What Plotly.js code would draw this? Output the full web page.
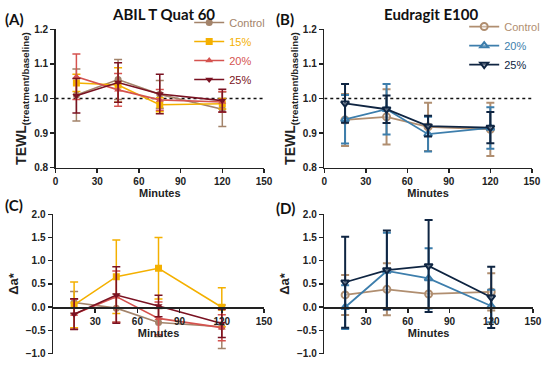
<!DOCTYPE html>
<html><head><meta charset="utf-8">
<script src="https://cdn.plot.ly/plotly-3.0.1.min.js"></script>
<style>html,body{margin:0;padding:0;background:#fff}#chart{width:550px;height:365px}</style>
</head><body><div id="chart"></div>
<script>
const minutes = [15, 45, 75, 120];
const xTicks = [0, 30, 60, 90, 120, 150];
const xTicksLower = [30, 60, 90, 120, 150];

// Panel A: ABIL T Quat 60, TEWL ratio
const tewlAbilControl = [1.010, 1.055, 1.012, 0.969];
const tewlAbilControlSd = [0.075, 0.058, 0.040, 0.050];
const tewlAbil15 = [1.045, 1.039, 0.982, 0.985];
const tewlAbil15Sd = [0.025, 0.050, 0.020, 0.015];
const tewlAbil20 = [1.063, 1.025, 0.996, 0.990];
const tewlAbil20Sd = [0.066, 0.047, 0.030, 0.030];
const tewlAbil25 = [1.008, 1.046, 1.013, 0.994];
const tewlAbil25Sd = [0.050, 0.057, 0.057, 0.033];

// Panel B: Eudragit E100, TEWL ratio
const tewlEudControl = [0.938, 0.947, 0.918, 0.911];
const tewlEudControlSd = [0.075, 0.080, 0.070, 0.077];
const tewlEud20 = [0.940, 0.969, 0.897, 0.915];
const tewlEud20Sd = [0.070, 0.073, 0.050, 0.060];
const tewlEud25 = [0.986, 0.969, 0.920, 0.916];
const tewlEud25Sd = [0.056, 0.040, 0.030, 0.045];

// Panel C: ABIL T Quat 60, delta a*
const daAbilControl = [0.10, -0.02, -0.33, -0.42];
const daAbilControlSd = [0.24, 0.30, 0.30, 0.47];
const daAbil15 = [0.05, 0.657, 0.838, 0.00];
const daAbil15Sd = [0.49, 0.79, 0.66, 0.42];
const daAbil20 = [-0.15, 0.227, -0.24, -0.44];
const daAbil20Sd = [0.32, 0.55, 0.35, 0.28];
const daAbil25 = [-0.15, 0.263, 0.025, -0.35];
const daAbil25Sd = [0.33, 0.61, 0.23, 0.30];

// Panel D: Eudragit E100, delta a*
const daEudControl = [0.265, 0.385, 0.285, 0.33];
const daEudControlSd = [0.43, 0.56, 0.30, 0.40];
const daEud20 = [0.00, 0.78, 0.62, 0.025];
const daEud20Sd = [0.47, 0.82, 0.65, 0.35];
const daEud25 = [0.537, 0.80, 0.888, 0.213];
const daEud25Sd = [0.98, 0.85, 0.99, 0.66];

const cA = {control:'#a3836a', p15:'#f4b000', p20:'#d5534f', p25:'#7a1222'};
const cB = {control:'#b08e70', p20:'#3d7eac', p25:'#0f2542'};

function tr(y, sd, color, symbol, name, xa, ya, legend, show, open){
  return {
    x: minutes, y: y, type:'scatter', mode:'lines+markers',
    name: '<span style="color:'+color+'">'+name+'</span>',
    xaxis: xa, yaxis: ya, legend: legend, showlegend: show,
    line:{color:color, width: open ? 1.8 : 1.6},
    marker: open ? {symbol: symbol, size:7, color:'rgba(255,255,255,0.35)', line:{color:color, width:2}}
                 : {symbol: symbol, size:7, color:color},
    error_y:{type:'data', array: sd, visible:true, color:color, thickness: open ? 2 : 1.5, width:4},
    hoverinfo:'skip'
  };
}

const data = [
  tr(tewlAbilControl, tewlAbilControlSd, cA.control, 'circle', 'Control', 'x', 'y', 'legend', true, false),
  tr(tewlAbil15, tewlAbil15Sd, cA.p15, 'square', '15%', 'x', 'y', 'legend', true, false),
  tr(tewlAbil20, tewlAbil20Sd, cA.p20, 'triangle-up', '20%', 'x', 'y', 'legend', true, false),
  tr(tewlAbil25, tewlAbil25Sd, cA.p25, 'triangle-down', '25%', 'x', 'y', 'legend', true, false),
  tr(tewlEudControl, tewlEudControlSd, cB.control, 'circle', 'Control', 'x2', 'y2', 'legend2', true, true),
  tr(tewlEud20, tewlEud20Sd, cB.p20, 'triangle-up', '20%', 'x2', 'y2', 'legend2', true, true),
  tr(tewlEud25, tewlEud25Sd, cB.p25, 'triangle-down', '25%', 'x2', 'y2', 'legend2', true, true),
  tr(daAbilControl, daAbilControlSd, cA.control, 'circle', 'Control', 'x3', 'y3', 'legend', false, false),
  tr(daAbil15, daAbil15Sd, cA.p15, 'square', '15%', 'x3', 'y3', 'legend', false, false),
  tr(daAbil20, daAbil20Sd, cA.p20, 'triangle-up', '20%', 'x3', 'y3', 'legend', false, false),
  tr(daAbil25, daAbil25Sd, cA.p25, 'triangle-down', '25%', 'x3', 'y3', 'legend', false, false),
  tr(daEudControl, daEudControlSd, cB.control, 'circle', 'Control', 'x4', 'y4', 'legend2', false, true),
  tr(daEud20, daEud20Sd, cB.p20, 'triangle-up', '20%', 'x4', 'y4', 'legend2', false, true),
  tr(daEud25, daEud25Sd, cB.p25, 'triangle-down', '25%', 'x4', 'y4', 'legend2', false, true)
];

const FONT = 'Arial';
const TFONT = 'Lato';
const tickFont = {family: FONT, size: 10, color:'#222', weight: 'bold'};
function xax(domain, anchor, tickvals, extra){
  return Object.assign({
    domain: domain, anchor: anchor, range:[0,150], tickvals: tickvals, ticktext: tickvals.map(String),
    showline:true, linecolor:'#222', linewidth:1.5, ticks:'outside', ticklen:4, tickwidth:1.5, tickcolor:'#222',
    showgrid:false, zeroline:false, tickfont: tickFont,
    title:{text:'<b>Minutes</b>', font:{family:FONT, size:11, color:'#222'}, standoff:2}
  }, extra||{});
}
function yax(domain, anchor, range, dtick, fmt, title, tsize){
  return {
    domain: domain, anchor: anchor, range: range, dtick: dtick, tick0: range[0], tickformat: fmt,
    showline:true, linecolor:'#222', linewidth:1.5, ticks:'outside', ticklen:4, tickwidth:1.5, tickcolor:'#222',
    showgrid:false, zeroline:false, tickfont: tickFont,
    title:{text: title, font:{family:FONT, size:tsize, color:'#222'}, standoff:4}
  };
}
const tewlTitle = '<b>TEWL<sub>(treatment/baseline)</sub></b>';
const daTitle = '<b>Δa*</b>';
const minTitle = {text:'<b>Minutes</b>', font:{family:FONT, size:11, color:'#222'}, standoff:0};

const layout = {
  width:550, height:365, margin:{l:0,r:0,t:0,b:0},
  paper_bgcolor:'#fff', plot_bgcolor:'rgba(0,0,0,0)',
  font:{family:FONT, color:'#222'},
  xaxis: xax([0.101,0.480], 'y', xTicks),
  yaxis: yax([0.5405,0.9197], 'x', [0.8,1.2], 0.1, '.1f', tewlTitle, 14),
  xaxis2: xax([0.5896,0.967], 'y2', xTicks),
  yaxis2: yax([0.5405,0.9197], 'x2', [0.8,1.2], 0.1, '.1f', tewlTitle, 14),
  xaxis3: xax([0.0964,0.480], 'free', xTicksLower, {position:0.1584, title:minTitle}),
  yaxis3: yax([0.031,0.413], 'x3', [-1,2], 0.5, '.1f', daTitle, 13),
  xaxis4: xax([0.5896,0.969], 'free', xTicksLower, {position:0.1584, title:minTitle}),
  yaxis4: yax([0.031,0.413], 'x4', [-1,2], 0.5, '.1f', daTitle, 13),
  legend:{x:0.344, y:0.978, xanchor:'left', yanchor:'top', bgcolor:'rgba(0,0,0,0)', font:{family:FONT, size:11}, itemwidth:30, tracegroupgap:0},
  legend2:{x:0.844, y:0.967, xanchor:'left', yanchor:'top', bgcolor:'rgba(0,0,0,0)', font:{family:FONT, size:11}, itemwidth:30, tracegroupgap:0},
  shapes:[
    {type:'line', xref:'x', yref:'y', x0:0, x1:150, y0:1, y1:1, line:{color:'#111', width:1.5, dash:'dot'}, layer:'below'},
    {type:'line', xref:'x2', yref:'y2', x0:0, x1:150, y0:1, y1:1, line:{color:'#111', width:1.5, dash:'dot'}, layer:'below'}
  ],
  annotations:[
    {text:'<b>ABIL T Quat 60</b>', xref:'paper', yref:'paper', x:0.298, y:0.962, xanchor:'center', yanchor:'middle', showarrow:false, font:{family:TFONT, size:15, color:'#111'}},
    {text:'<b>Eudragit E100</b>', xref:'paper', yref:'paper', x:0.784, y:0.962, xanchor:'center', yanchor:'middle', showarrow:false, font:{family:TFONT, size:15, color:'#111'}},
    {text:'<b>(A)</b>', xref:'paper', yref:'paper', x:0.006, y:0.948, xanchor:'left', yanchor:'middle', showarrow:false, font:{family:TFONT, size:15, color:'#111'}},
    {text:'<b>(B)</b>', xref:'paper', yref:'paper', x:0.499, y:0.948, xanchor:'left', yanchor:'middle', showarrow:false, font:{family:TFONT, size:15, color:'#111'}},
    {text:'<b>(C)</b>', xref:'paper', yref:'paper', x:0.006, y:0.438, xanchor:'left', yanchor:'middle', showarrow:false, font:{family:TFONT, size:15, color:'#111'}},
    {text:'<b>(D)</b>', xref:'paper', yref:'paper', x:0.499, y:0.430, xanchor:'left', yanchor:'middle', showarrow:false, font:{family:TFONT, size:15, color:'#111'}}
  ]
};

Plotly.newPlot('chart', data, layout, {staticPlot:true, displayModeBar:false});
</script></body></html>
